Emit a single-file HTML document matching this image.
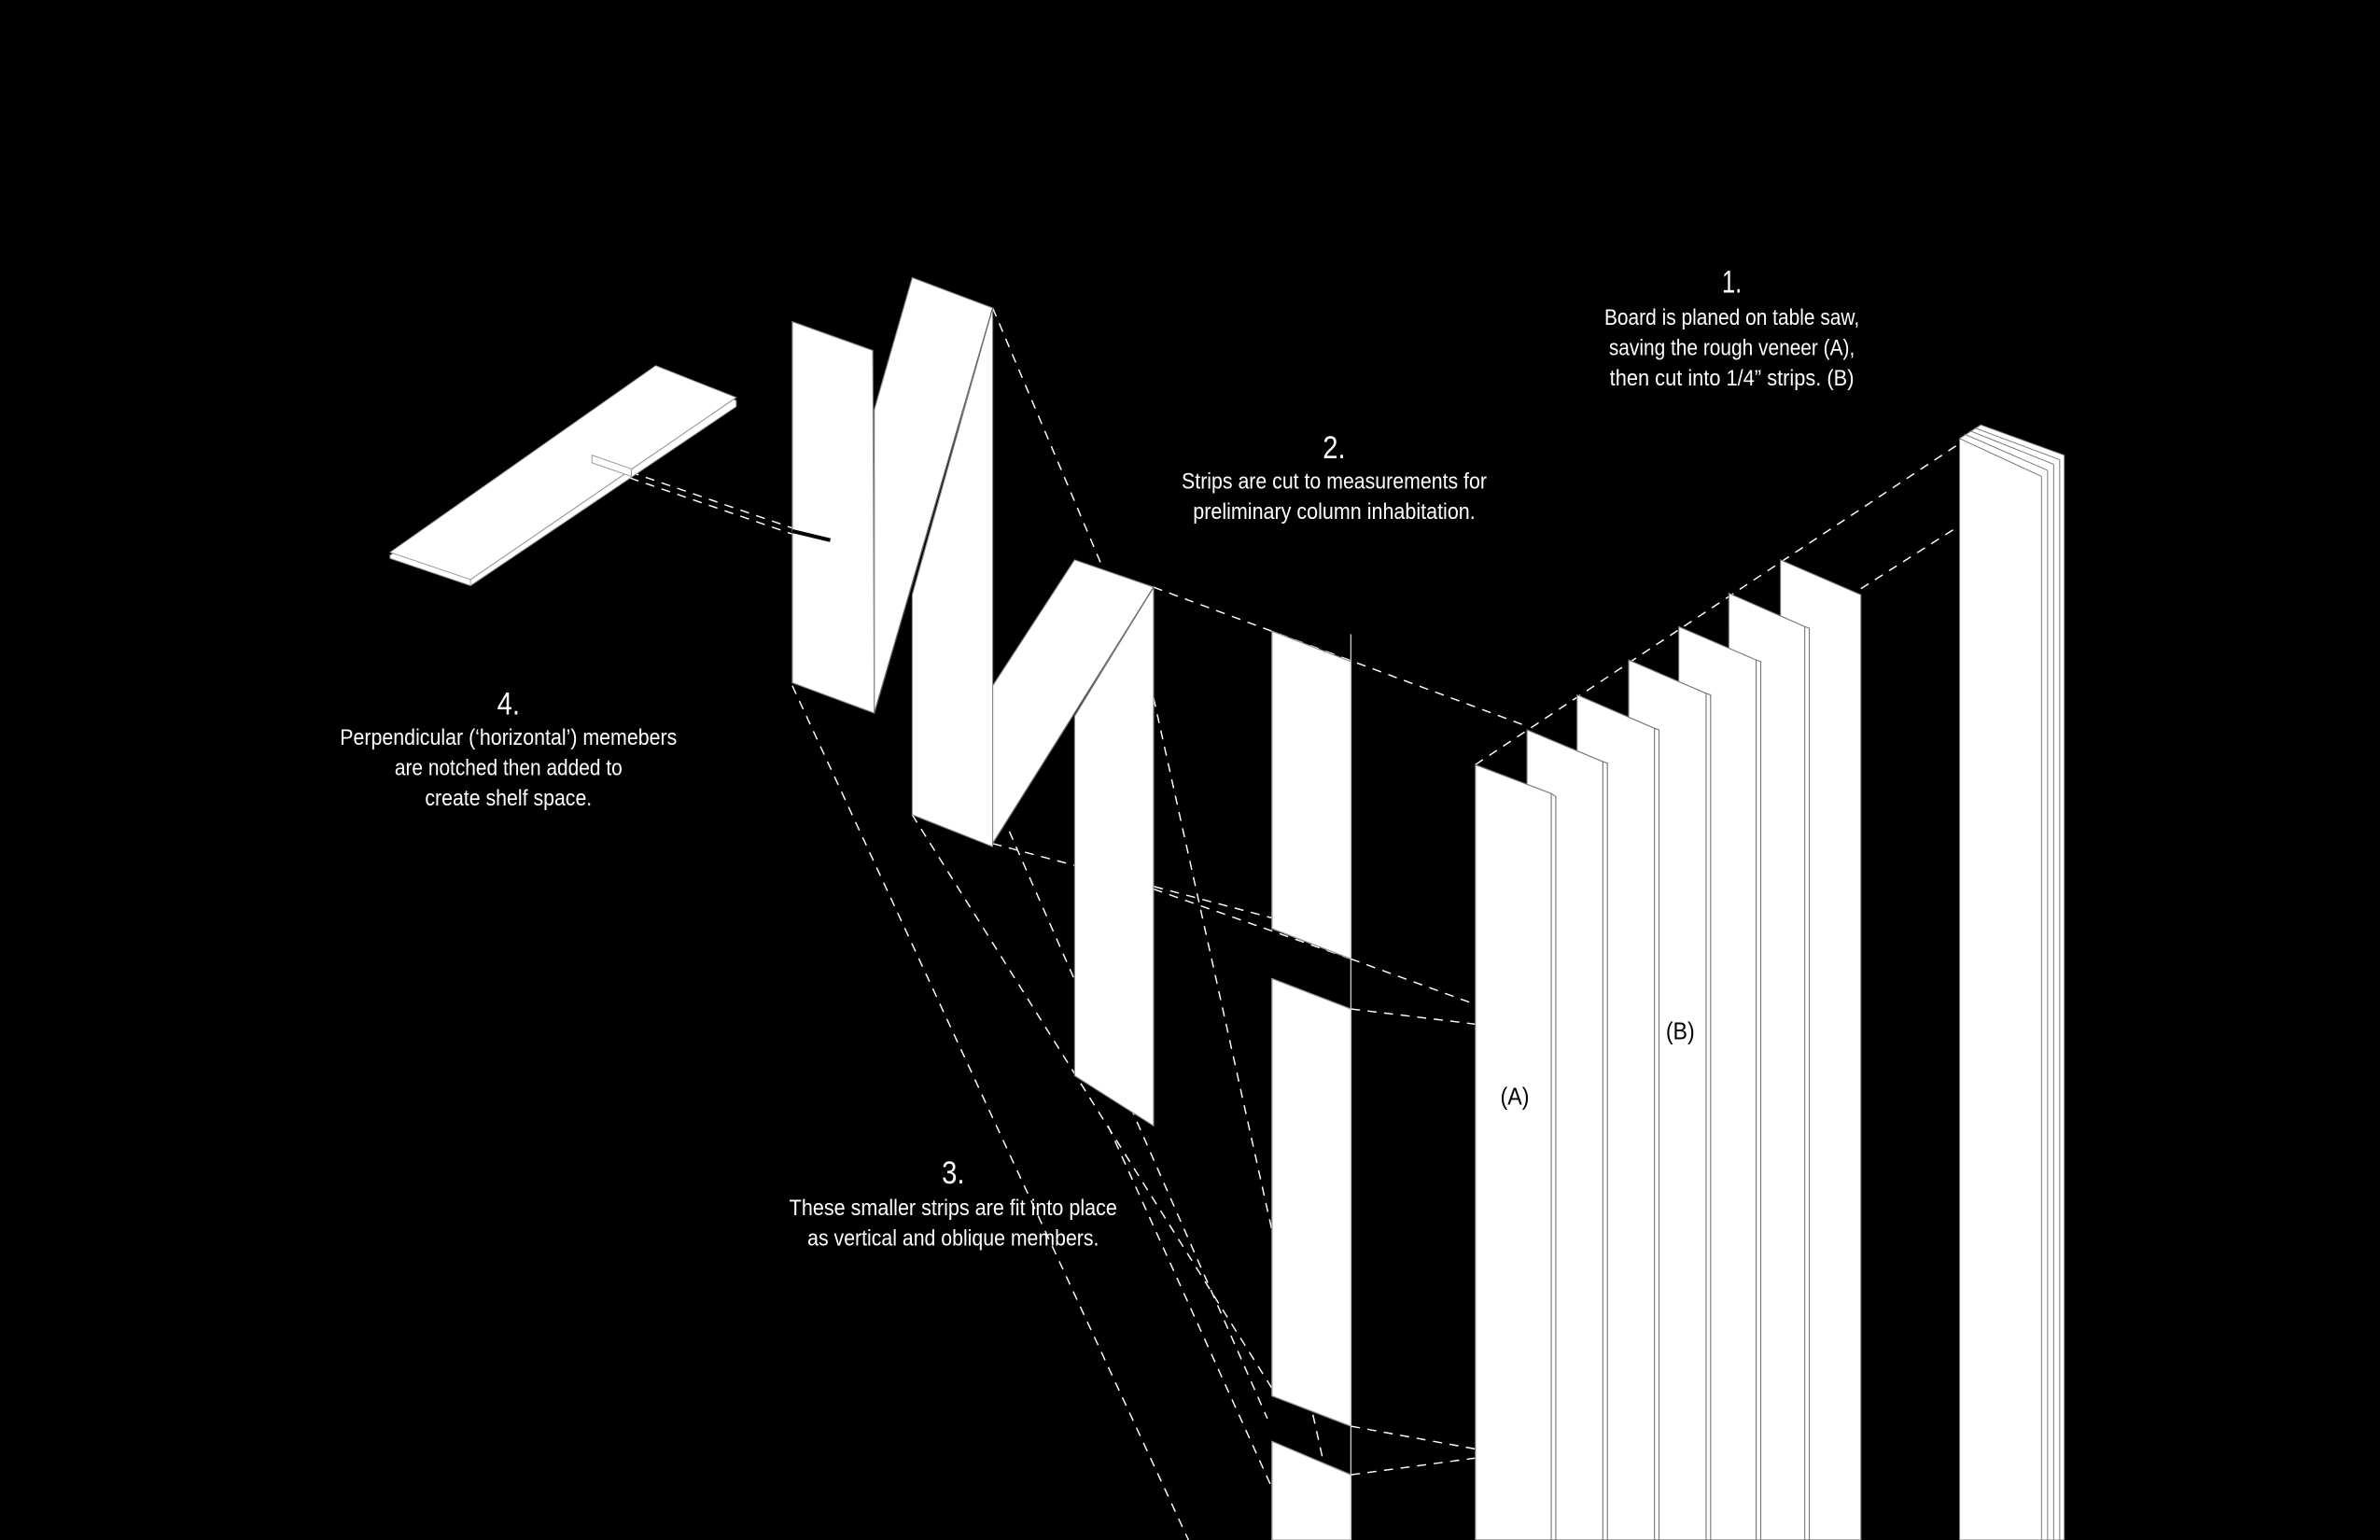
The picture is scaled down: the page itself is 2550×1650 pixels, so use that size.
<!DOCTYPE html>
<html><head><meta charset="utf-8"><style>
html,body{margin:0;padding:0;background:#000;}
svg{display:block;}
text{fill:#fff;font-family:"Liberation Sans Narrow","Liberation Sans",sans-serif;}
</style></head><body>
<svg width="2550" height="1650" viewBox="0 0 1568 1015" preserveAspectRatio="none" xmlns="http://www.w3.org/2000/svg">
<rect width="1568" height="1015" fill="#000"/>
<g stroke="#fff" stroke-width="0.9" stroke-dasharray="6 5" fill="none">
<line x1="972" y1="504" x2="1296" y2="289"/>
<line x1="1226" y1="388" x2="1345" y2="312"/>
<line x1="760" y1="387" x2="1007" y2="479"/>
<line x1="654" y1="203" x2="726" y2="373"/>
<line x1="522" y1="452" x2="783" y2="1015"/>
<line x1="601" y1="537" x2="838" y2="915"/>
<line x1="654" y1="556" x2="838" y2="605"/>
<line x1="665" y1="548" x2="835" y2="935"/>
<line x1="760" y1="460" x2="880" y2="1000"/>
<line x1="760" y1="586" x2="890" y2="632"/>
<line x1="730" y1="742" x2="840" y2="985"/>
<line x1="890" y1="632" x2="972" y2="662"/>
<line x1="890" y1="665" x2="972" y2="675"/>
<line x1="890" y1="940" x2="972" y2="955"/>
<line x1="890" y1="972" x2="972" y2="961"/>
<line x1="1025" y1="685" x2="1060" y2="697"/>
<line x1="1025" y1="968" x2="1060" y2="980"/>
<line x1="415" y1="311" x2="522" y2="348"/>
<line x1="415" y1="315" x2="522" y2="352"/>
</g>
<g stroke="#999" stroke-width="0.6">
<polygon points="257,366 432,243 485,264 485,268 310,386 257,368" fill="#fff"/>
<polygon points="257,364 432,241 485,262 310,382" fill="#fff"/>
<line x1="310" y1="382" x2="310" y2="386"/>
<line x1="310" y1="382" x2="485" y2="262"/>
<polygon points="390,300 416,309 416,314 390,305" fill="#fff"/>
</g>
<g stroke="#888" stroke-width="0.7" fill="#fff">
<polygon points="522,212 575,231 576,470 522,450"/>
<polygon points="601,392 654,203 654,558 601,537"/>
<polygon points="601,183 654,203 576,470 576,270"/>
<line x1="654" y1="203" x2="576" y2="470" stroke="#666"/>
<polygon points="708,472 760,387 760,742 708,709"/>
<polygon points="708,369 760,387 654,556 654,452"/>
<line x1="760" y1="387" x2="654" y2="556" stroke="#666"/>
</g>
<line x1="522" y1="350" x2="547" y2="356" stroke="#000" stroke-width="2.5"/>
<g stroke="#999" stroke-width="0.8" fill="#fff">
<polygon points="838,416 890,436 890,632 838,612"/>
<polygon points="838,645 890,665 890,940 838,920"/>
<polygon points="838,950 890,972 890,1015 838,1015"/>
<line x1="890" y1="418" x2="890" y2="1015" stroke="#ccc"/>
</g>
<g stroke="#777" stroke-width="0.7" fill="#fff">
<polygon points="1173,369 1226,392 1226,1015 1173,1015"/>
<polygon points="1139,391 1189,413 1192,414 1192,1015 1139,1015"/>
<polygon points="1106,413 1157,435 1160,436 1160,1015 1106,1015"/>
<polygon points="1073,435 1124,457 1127,458 1127,1015 1073,1015"/>
<polygon points="1039,458 1090,480 1093,481 1093,1015 1039,1015"/>
<polygon points="1006,481 1056,502 1059,503 1059,1015 1006,1015"/>
<polygon points="972,504 1022,523 1025,525 1025,1015 972,1015"/>
<line x1="1022" y1="523" x2="1022" y2="1015"/><line x1="1056" y1="502" x2="1056" y2="1015"/>
<line x1="1090" y1="480" x2="1090" y2="1015"/><line x1="1124" y1="457" x2="1124" y2="1015"/>
<line x1="1157" y1="435" x2="1157" y2="1015"/><line x1="1189" y1="413" x2="1189" y2="1015"/>
</g>
<g stroke="#777" stroke-width="0.6" fill="#fff">
<polygon points="1305,280 1360,300 1360,1015 1291,1015 1291,289"/>
<line x1="1291" y1="289" x2="1345" y2="314"/>
<line x1="1294" y1="286" x2="1349" y2="310"/><line x1="1298" y1="284" x2="1353" y2="306"/>
<line x1="1301" y1="282" x2="1357" y2="303"/>
<line x1="1345" y1="314" x2="1345" y2="1015"/><line x1="1349" y1="310" x2="1349" y2="1015"/>
<line x1="1353" y1="306" x2="1353" y2="1015"/><line x1="1357" y1="303" x2="1357" y2="1015"/>
</g>
<g text-anchor="middle" lengthAdjust="spacingAndGlyphs">
<text x="1141" y="193" font-size="21" textLength="13" lengthAdjust="spacingAndGlyphs">1.</text>
<text x="1141" y="214" font-size="15" textLength="168" lengthAdjust="spacingAndGlyphs">Board is planed on table saw,</text>
<text x="1141" y="234" font-size="15" textLength="162" lengthAdjust="spacingAndGlyphs">saving the rough veneer (A),</text>
<text x="1141" y="254" font-size="15" textLength="161" lengthAdjust="spacingAndGlyphs">then cut into 1/4” strips. (B)</text>
</g>
<g text-anchor="middle">
<text x="879" y="302" font-size="21" textLength="15" lengthAdjust="spacingAndGlyphs">2.</text>
<text x="879" y="322" font-size="15" textLength="201" lengthAdjust="spacingAndGlyphs">Strips are cut to measurements for</text>
<text x="879" y="342" font-size="15" textLength="186" lengthAdjust="spacingAndGlyphs">preliminary column inhabitation.</text>
</g>
<g text-anchor="middle">
<text x="335" y="471" font-size="21" textLength="15" lengthAdjust="spacingAndGlyphs">4.</text>
<text x="335" y="491" font-size="15" textLength="222" lengthAdjust="spacingAndGlyphs">Perpendicular (‘horizontal’) memebers</text>
<text x="335" y="511" font-size="15" textLength="150" lengthAdjust="spacingAndGlyphs">are notched then added to</text>
<text x="335" y="531" font-size="15" textLength="110" lengthAdjust="spacingAndGlyphs">create shelf space.</text>
</g>
<g text-anchor="middle">
<text x="628" y="780" font-size="21" textLength="15" lengthAdjust="spacingAndGlyphs">3.</text>
<text x="628" y="801" font-size="15" textLength="216" lengthAdjust="spacingAndGlyphs">These smaller strips are fit into place</text>
<text x="628" y="821" font-size="15" textLength="192" lengthAdjust="spacingAndGlyphs">as vertical and oblique members.</text>
</g>
<text x="998" y="728" font-size="16" text-anchor="middle" textLength="19" lengthAdjust="spacingAndGlyphs" style="fill:#000">(A)</text>
<text x="1107" y="685" font-size="16" text-anchor="middle" textLength="19" lengthAdjust="spacingAndGlyphs" style="fill:#000">(B)</text>
</svg>
</body></html>
